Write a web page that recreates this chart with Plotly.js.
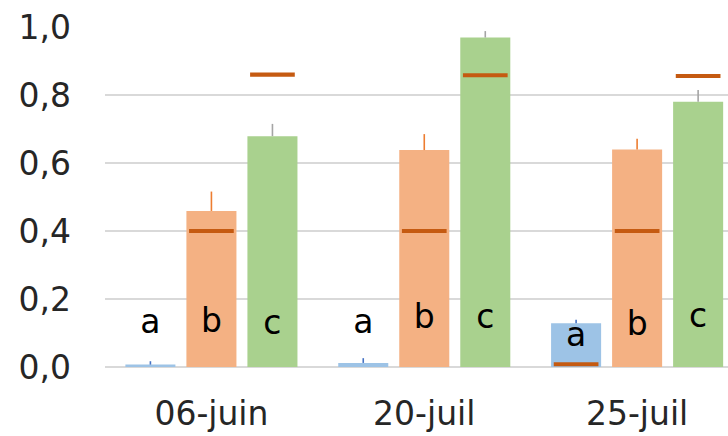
<!DOCTYPE html>
<html>
<head>
<meta charset="utf-8">
<script src="https://cdn.plot.ly/plotly-3.0.1.min.js"></script>
<style>html,body{margin:0;padding:0;background:#fff;}#chart{width:728px;height:436px;}</style>
</head>
<body>
<div id="chart"></div>
<script>
// ---- data ----
var categories = ["06-juin", "20-juil", "25-juil"];
var blueValues   = [0.007, 0.012, 0.129];
var blueErrors   = [0.010, 0.014, 0.010];
var orangeValues = [0.459, 0.638, 0.640];
var orangeErrors = [0.057, 0.047, 0.031];
var greenValues  = [0.679, 0.969, 0.780];
var greenErrors  = [0.036, 0.019, 0.035];
// reference dashes (dark orange)
var blueRef   = [null, null, 0.008];
var orangeRef = [0.40, 0.40, 0.40];
var greenRef  = [0.86, 0.858, 0.856];
// significance letters and their baseline heights
var blueLetters   = ["a", "a", "a"];
var orangeLetters = ["b", "b", "b"];
var greenLetters  = ["c", "c", "c"];
var blueLetterBase   = [0.100, 0.100, 0.062];
var orangeLetterBase = [0.103, 0.115, 0.094];
var greenLetterBase  = [0.097, 0.115, 0.118];

// ---- styles ----
var FONT = "DejaVu Sans";
var FS = 33;
var dashColor = "#C55A11";
var dashThick = 0.012;
var dashWidth = 0.21;
var textDrop = 0.033; // pad + descent, in data units

function barTrace(vals, errs, color, errColor, grp) {
  return {
    type: "bar", x: categories, y: vals, offsetgroup: grp,
    marker: {color: color, line: {width: 0}},
    error_y: {type: "data", symmetric: false, array: errs,
              arrayminus: vals.map(function(){return 0;}),
              color: errColor, thickness: 1.6, width: 0},
    hoverinfo: "skip", showlegend: false
  };
}
function dashTrace(refs, grp) {
  return {
    type: "bar", x: categories,
    y: refs.map(function(r){return r === null ? null : dashThick;}),
    base: refs.map(function(r){return r === null ? null : r - dashThick/2;}),
    offsetgroup: grp, width: dashWidth,
    marker: {color: dashColor, line: {width: 0}},
    hoverinfo: "skip", showlegend: false
  };
}
function letterTrace(letters, base, grp) {
  return {
    type: "bar", x: categories,
    y: base.map(function(b){return b - textDrop;}),
    offsetgroup: grp, text: letters, textposition: "outside",
    constraintext: "none", cliponaxis: false,
    textfont: {family: FONT, size: FS, color: "#000000"},
    marker: {color: "rgba(0,0,0,0)", line: {width: 0}},
    hoverinfo: "skip", showlegend: false
  };
}

var data = [
  barTrace(blueValues, blueErrors, "#9DC3E6", "#4472C4", "A"),
  barTrace(orangeValues, orangeErrors, "#F4B183", "#ED7D31", "B"),
  barTrace(greenValues, greenErrors, "#A9D18E", "#A5A5A5", "C"),
  dashTrace(blueRef, "A"),
  dashTrace(orangeRef, "B"),
  dashTrace(greenRef, "C"),
  letterTrace(blueLetters, blueLetterBase, "A"),
  letterTrace(orangeLetters, orangeLetterBase, "B"),
  letterTrace(greenLetters, greenLetterBase, "C")
];

var layout = {
  width: 728, height: 436,
  margin: {l: 105, r: 0, t: 27, b: 69, pad: 0},
  paper_bgcolor: "#ffffff", plot_bgcolor: "#ffffff",
  barmode: "group", bargap: 0.14, bargroupgap: 0.18,
  separators: ",.",
  font: {family: FONT, size: FS, color: "#262626"},
  xaxis: {
    type: "category", range: [-0.5, 2.427], fixedrange: true,
    showgrid: false, zeroline: false, showline: false, ticks: "",
    ticklabelstandoff: 24,
    tickfont: {family: FONT, size: FS, color: "#262626"}
  },
  yaxis: {
    range: [0, 1.0], dtick: 0.2, tick0: 0, tickformat: ".1f",
    showgrid: true, gridcolor: "#D9D9D9", gridwidth: 1.5,
    zeroline: true, zerolinecolor: "#D9D9D9", zerolinewidth: 1.5,
    showline: false, ticks: "", ticklabelstandoff: 33,
    tickfont: {family: FONT, size: FS, color: "#262626"}
  }
};

Plotly.newPlot("chart", data, layout, {staticPlot: true, displayModeBar: false});
</script>
</body>
</html>
